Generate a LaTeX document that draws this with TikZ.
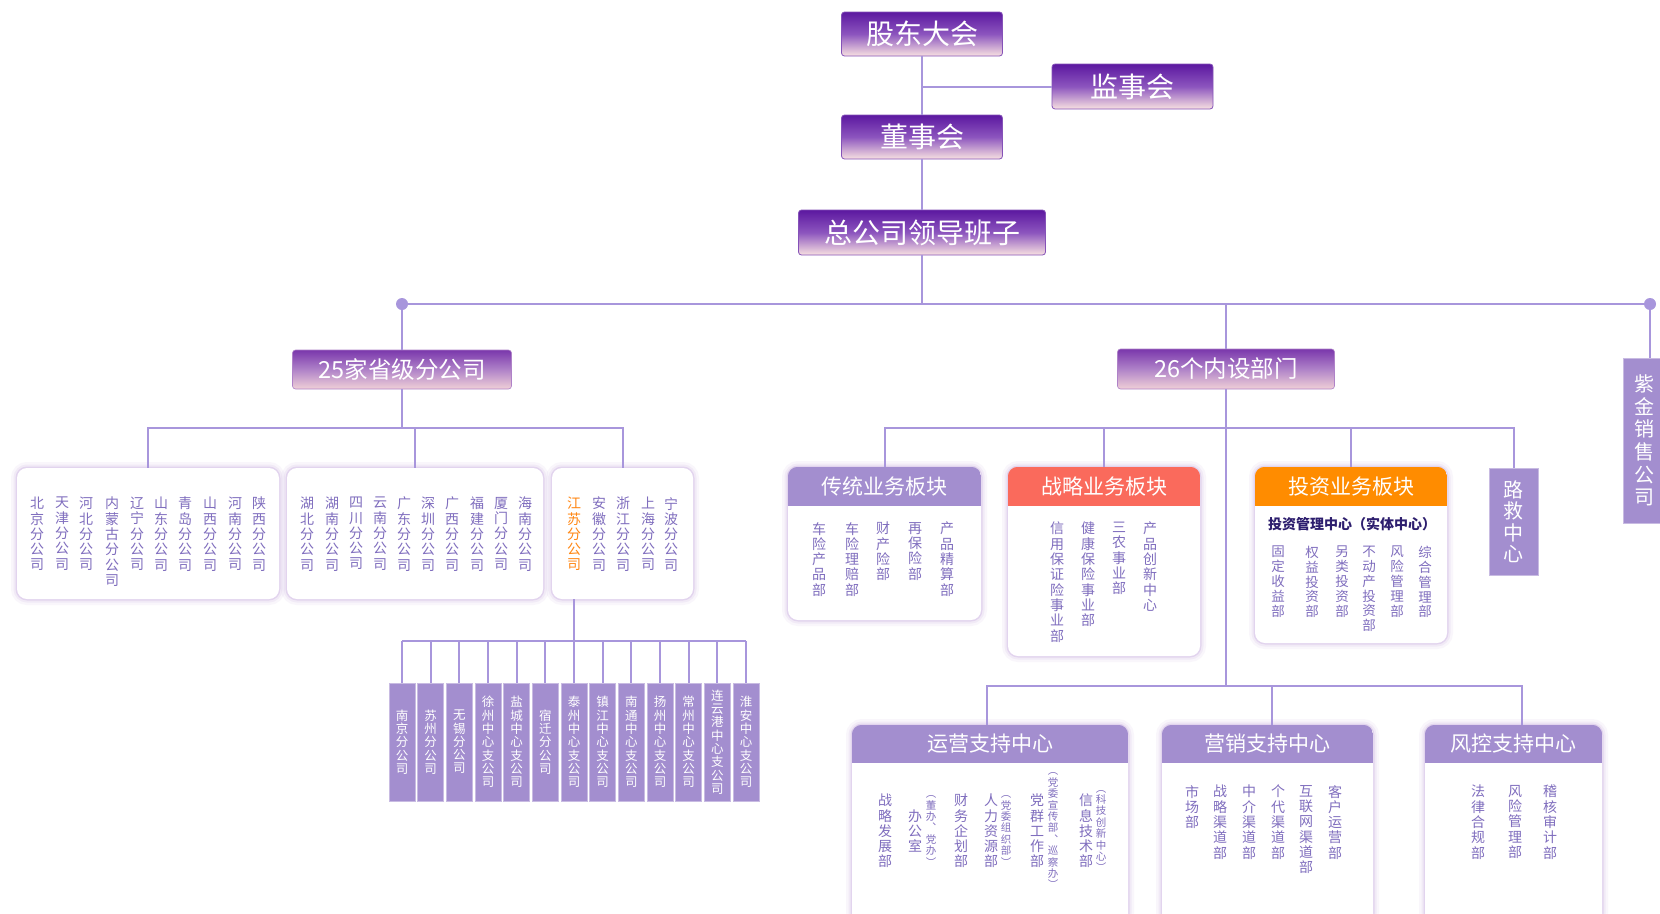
\documentclass[tikz,border=0pt]{standalone}
\usepackage{fontspec}
\setmainfont{Noto Sans CJK SC}
\usetikzlibrary{calc}
\definecolor{lnc}{RGB}{168,150,220}
\definecolor{lav}{RGB}{163,142,207}
\definecolor{txc}{RGB}{128,110,190}
\definecolor{orn}{RGB}{255,140,0}
\definecolor{org}{RGB}{255,135,20}
\definecolor{cor}{RGB}{250,106,92}
\definecolor{ptop}{RGB}{92,24,160}
\definecolor{pmid}{RGB}{140,85,190}
\definecolor{pbot}{RGB}{248,225,225}
\definecolor{qtop}{RGB}{122,55,172}
\definecolor{qmid}{RGB}{175,130,200}
\definecolor{qbot}{RGB}{240,208,215}
\definecolor{glw}{RGB}{185,150,215}
\definecolor{dkb}{RGB}{45,30,110}
\ExplSyntaxOn
\tl_new:N \l_myvt_tl
\tl_new:N \l_myvtb_tl
\NewDocumentCommand\vtxt{m}{
  \tl_set:Nx \l_myvtb_tl {#1}
  \tl_clear:N \l_myvt_tl
  \tl_map_inline:Nn \l_myvtb_tl {
    \tl_if_empty:NF \l_myvt_tl {\tl_put_right:Nn \l_myvt_tl {\\}}
    \tl_put_right:Nn \l_myvt_tl {##1}
  }
  \l_myvt_tl
}
\ExplSyntaxOff
\tikzset{
  conn/.style={draw=lnc, line width=2pt},
  topbox/.style={rectangle, rounded corners=3pt, top color=ptop, bottom color=pbot, middle color=pmid, draw=ptop!75!white, line width=0.8pt, text=white, font=\fontsize{28}{28}\selectfont, inner sep=0pt},
  secbox/.style={rectangle, rounded corners=3pt, top color=qtop, bottom color=qbot, middle color=qmid, draw=qmid, line width=0.6pt, text=white, font=\fontsize{23.5}{23.5}\selectfont, inner sep=0pt},
  card/.style={rectangle, rounded corners=10pt, fill=white, inner sep=0pt,
    preaction={draw=glw, line width=12pt, draw opacity=0.08},
    preaction={draw=glw, line width=7pt, draw opacity=0.12},
    preaction={draw=glw, line width=3pt, draw opacity=0.25}},
  lavbox/.style={rectangle, fill=lav, draw=lav!60!white, line width=0.8pt, text=white, inner sep=0pt, align=center},
  vt/.style={align=center, inner sep=0pt, text=txc, font=\fontsize{14}{15.3}\selectfont, anchor=north},
  vts/.style={align=center, inner sep=0pt, text=txc, font=\fontsize{10.5}{11.4}\selectfont, anchor=center},
  hdr/.style={text=white, font=\fontsize{21}{21}\selectfont, inner sep=0pt},
  dot/.style={circle, fill=lnc, minimum size=12pt, inner sep=0pt}
}
\begin{document}
\begin{tikzpicture}[x=1pt,y=-1pt]
\fill[white] (0,0) rectangle (1660,913);
\useasboundingbox (0,0) rectangle (1660,913);

% top chain
\node[topbox, minimum width=161, minimum height=44] (gd) at (922,34) {股东大会};
\node[topbox, minimum width=161, minimum height=45] (js) at (1132.5,86.5) {监事会};
\node[topbox, minimum width=161, minimum height=44] (ds) at (922,137) {董事会};
\node[topbox, minimum width=247, minimum height=45] (zg) at (922,232.5) {总公司领导班子};
\draw[conn] (gd.south) -- (ds.north);
\draw[conn] (gd.south |- js.west) -- (js.west);
\draw[conn] (ds.south) -- (zg.north);

% bus
\coordinate (busL) at (402,304);
\coordinate (busR) at (1650,304);
\draw[conn] (zg.south) -- (zg.south |- busL);
\draw[conn] (busL) -- (busR);

\node[secbox, minimum width=219, minimum height=39] (p25) at (402,369.5) {25家省级分公司};
\node[secbox, minimum width=217, minimum height=40] (d26) at (1226,369) {26个内设部门};
\node[lavbox, minimum width=42, minimum height=165, font=\fontsize{20}{22.7}\selectfont] (zj) at (1644,440.5) {\vtxt{紫金销售公司}};
\draw[conn] (busL) -- (p25.north);
\draw[conn] (d26.north |- busL) -- (d26.north);
\draw[conn] (busR) -- (busR |- zj.north);
\node[dot] (dl) at (busL) {};
\node[dot] (dr) at (busR) {};

% left cards
\node[card, minimum width=262, minimum height=131] (c1) at (148,533.5) {};
\node[card, minimum width=256, minimum height=131] (c2) at (415,533.5) {};
\node[card, minimum width=141, minimum height=131] (c3) at (622.5,533.5) {};
\coordinate (lbar) at (402,428);
\draw[conn] (p25.south) -- (lbar);
\draw[conn] (c1.north) |- (lbar) -| (c3.north);
\draw[conn] (c2.north) -- (c2.north |- lbar);

\foreach \x/\nm [count=\k] in {37/北京分公司,62/天津分公司,86/河北分公司,112/内蒙古分公司,137/辽宁分公司,161/山东分公司,185/青岛分公司,210/山西分公司,235/河南分公司,259/陕西分公司}
  \node[vt] (a\k) at (\x,497) {\vtxt{\nm}};
\foreach \x/\nm [count=\k] in {307/湖北分公司,332/湖南分公司,356/四川分公司,380/云南分公司,404/广东分公司,428/深圳分公司,452/广西分公司,477/福建分公司,501/厦门分公司,525/海南分公司}
  \node[vt] (m\k) at (\x,497) {\vtxt{\nm}};
\node[vt, text=org] (b1) at (574,497) {\vtxt{江苏分公司}};
\foreach \x/\nm [count=\k from 2] in {599/安徽分公司,623/浙江分公司,648/上海分公司,671/宁波分公司}
  \node[vt] (b\k) at (\x,497) {\vtxt{\nm}};

% Jiangsu subsidiaries
\coordinate (jb) at (574,641);
\draw[conn] (b1 |- c3.south) -- (jb);
\foreach \nm [count=\i] in {南京分公司,苏州分公司,无锡分公司,徐州中心支公司,盐城中心支公司,宿迁分公司,泰州中心支公司,镇江中心支公司,南通中心支公司,扬州中心支公司,常州中心支公司,连云港中心支公司,淮安中心支公司}{
  \node[lavbox, minimum width=26, minimum height=118, font=\fontsize{12.5}{13.3}\selectfont] (s\i) at ({402+28.667*(\i-1)},742) {\vtxt{\nm}};
  \draw[conn] (s\i.north) -- (s\i.north |- jb);
}
\draw[conn] (s1.north |- jb) -- (s13.north |- jb);

% right cards row 1
\node[card, minimum width=193, minimum height=153] (ct) at (884.5,543.5) {};
\node[card, minimum width=192, minimum height=189] (cz) at (1104,561.5) {};
\node[card, minimum width=192, minimum height=176] (ci) at (1351,555) {};
\node[lavbox, minimum width=49, minimum height=107, font=\fontsize{20}{21.5}\selectfont] (lj) at (1513.5,521.5) {\vtxt{路救中心}};
\coordinate (rb) at (1226,428);
\coordinate (lowb) at (1226,686);
\draw[conn] (d26.south) -- (lowb);
\draw[conn] (ct.north) |- (rb) -| (lj.north);
\draw[conn] (cz.north) -- (cz.north |- rb);
\draw[conn] (ci.north) -- (ci.north |- rb);

\begin{scope}
\clip[rounded corners=10pt] (ct.north west) rectangle (ct.south east);
\fill[lav] (ct.north west) rectangle (ct.east |- 0,506);
\end{scope}
\begin{scope}
\clip[rounded corners=10pt] (cz.north west) rectangle (cz.south east);
\fill[cor] (cz.north west) rectangle (cz.east |- 0,506);
\end{scope}
\begin{scope}
\clip[rounded corners=10pt] (ci.north west) rectangle (ci.south east);
\fill[orn] (ci.north west) rectangle (ci.east |- 0,506);
\end{scope}
\node[hdr] (ctt) at (884.5,486.5) {传统业务板块};
\node[hdr] (czt) at (1104,486.5) {战略业务板块};
\node[hdr] (cit) at (1351,486.5) {投资业务板块};

\foreach \x/\nm [count=\k] in {819/车险产品部,852/车险理赔部,883/财产险部,915/再保险部,947/产品精算部}
  \node[vt] (ct\k) at (\x,522) {\vtxt{\nm}};
\foreach \x/\nm [count=\k] in {1057/信用保证险事业部,1088/健康保险事业部,1119/三农事业部,1150/产品创新中心}
  \node[vt] (cz\k) at (\x,522) {\vtxt{\nm}};
\node[inner sep=0pt, text=dkb, font=\fontsize{14}{14}\selectfont\bfseries] (cis) at (1352,524) {投资管理中心（实体中心）};
\foreach \x/\nm [count=\k] in {1278/固定收益部,1312/权益投资部,1342/另类投资部,1369/不动产投资部,1397/风险管理部,1425/综合管理部}
  \node[vt, font=\fontsize{13.5}{14.8}\selectfont] (ci\k) at (\x,546) {\vtxt{\nm}};

% bottom cards
\node[card, minimum width=276, minimum height=215] (cy) at (990,832.5) {};
\node[card, minimum width=211, minimum height=215] (cx) at (1267.5,832.5) {};
\node[card, minimum width=177, minimum height=215] (cf) at (1513.5,832.5) {};
\draw[conn] ([xshift=-3pt]cy.north) |- (lowb) -| ([xshift=8.5pt]cf.north);
\draw[conn] ([xshift=4.5pt]cx.north) -- ([xshift=4.5pt]cx.north |- lowb);
\begin{scope}
\clip[rounded corners=10pt] (cy.north west) rectangle (cy.south east);
\fill[lav] (cy.north west) rectangle (cy.east |- 0,763);
\end{scope}
\begin{scope}
\clip[rounded corners=10pt] (cx.north west) rectangle (cx.south east);
\fill[lav] (cx.north west) rectangle (cx.east |- 0,763);
\end{scope}
\begin{scope}
\clip[rounded corners=10pt] (cf.north west) rectangle (cf.south east);
\fill[lav] (cf.north west) rectangle (cf.east |- 0,763);
\end{scope}
\node[hdr] (cyt) at (990,744) {运营支持中心};
\node[hdr] (cxt) at (1267.5,744) {营销支持中心};
\node[hdr] (cft) at (1513.5,744) {风控支持中心};

\foreach \x/\nm [count=\k] in {885/战略发展部,915/办公室,961/财务企划部,991/人力资源部,1037/党群工作部,1086/信息技术部}
  \node[vt, anchor=center] (cy\k) at (\x,831) {\vtxt{\nm}};
\foreach \x/\nm [count=\k] in {931/︵董办︑党办︶,1006/︵党委组织部︶,1053/︵党委宣传部︑巡察办︶,1101/︵科技创新中心︶}
  \node[vts] (cyn\k) at (\x,831) {\vtxt{\nm}};
\foreach \x/\nm [count=\k] in {1192/市场部,1220/战略渠道部,1249/中介渠道部,1278/个代渠道部,1306/互联网渠道部,1335/客户运营部}
  \node[vt] (cx\k) at (\x,785) {\vtxt{\nm}};
\foreach \x/\nm [count=\k] in {1478/法律合规部,1515/风险管理部,1550/稽核审计部}
  \node[vt] (cf\k) at (\x,785) {\vtxt{\nm}};
\end{tikzpicture}
\end{document}
